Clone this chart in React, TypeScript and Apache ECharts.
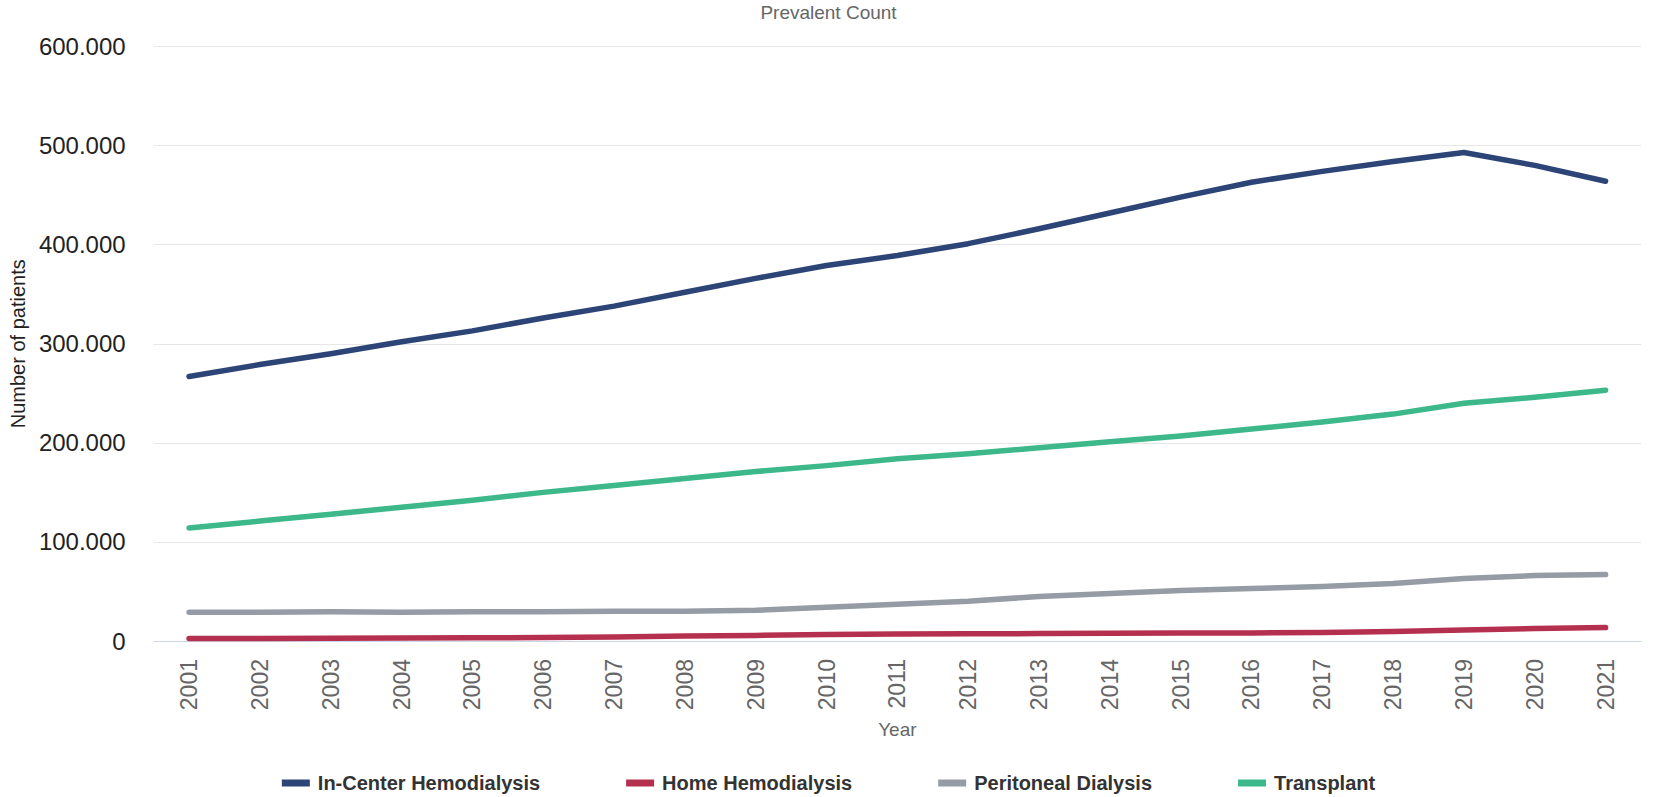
import React, { useEffect, useRef } from "react";
import * as echarts from "echarts";

const years = [
  "2001", "2002", "2003", "2004", "2005", "2006", "2007", "2008", "2009", "2010",
  "2011", "2012", "2013", "2014", "2015", "2016", "2017", "2018", "2019", "2020", "2021",
];

const inCenterHemodialysis = [
  267000, 279000, 290000, 302000, 313000, 326000, 338000, 352000, 366000, 379000,
  389000, 401000, 416000, 432000, 448000, 463000, 474000, 484000, 493000, 480000, 464000,
];

const homeHemodialysis = [
  2500, 2600, 2800, 3000, 3200, 3500, 4000, 5000, 5600, 6500,
  7000, 7200, 7500, 7800, 8000, 8200, 8500, 9500, 11000, 12500, 13500,
];

const peritonealDialysis = [
  29000, 29000, 29500, 29000, 29500, 29500, 30000, 30000, 31000, 34000,
  37000, 40000, 45000, 48000, 51000, 53000, 55000, 58000, 63000, 66000, 67000,
];

const transplant = [
  114000, 121000, 128000, 135000, 142000, 150000, 157000, 164000, 171000, 177000,
  184000, 189000, 195000, 201000, 207000, 214000, 221000, 229000, 240000, 246000, 253000,
];

const yTicks = [0, 100000, 200000, 300000, 400000, 500000, 600000];

const FONT = "'Liberation Sans', Arial, Helvetica, sans-serif";

const formatThousands = (v: number) =>
  String(Math.round(v)).replace(/\B(?=(\d{3})+(?!\d))/g, ".");

export default function App() {
  const ref = useRef<HTMLDivElement>(null);

  useEffect(() => {
    if (!ref.current) return;
    const chart = echarts.init(ref.current, undefined, { renderer: "svg" });

    const seriesDefs = [
      { name: "In-Center Hemodialysis", data: inCenterHemodialysis, color: "#2c4476" },
      { name: "Home Hemodialysis", data: homeHemodialysis, color: "#b5304e" },
      { name: "Peritoneal Dialysis", data: peritonealDialysis, color: "#959ca5" },
      { name: "Transplant", data: transplant, color: "#3db88b" },
    ];

    chart.setOption({
      animation: false,
      backgroundColor: "#ffffff",
      title: {
        text: "Prevalent Count",
        left: "center",
        top: 3,
        padding: 0,
        textStyle: { fontFamily: FONT, fontSize: 19, fontWeight: "normal", color: "#666666" },
      },
      legend: {
        top: 773,
        left: "center",
        padding: 0,
        itemWidth: 28,
        itemHeight: 7,
        itemGap: 86,
        icon: "rect",
        data: seriesDefs.map((s) => s.name),
        textStyle: {
          fontFamily: FONT,
          fontSize: 20,
          fontWeight: "bold",
          color: "#333333",
          padding: [0, 0, 0, 3],
        },
      },
      grid: {
        left: 149,
        right: 16,
        top: 46.5,
        bottom: 156,
        containLabel: false,
      },
      xAxis: {
        type: "category",
        data: years,
        boundaryGap: true,
        name: "Year",
        nameLocation: "middle",
        nameGap: 79,
        nameTextStyle: { fontFamily: FONT, fontSize: 19, color: "#666666" },
        axisLine: { show: true, lineStyle: { color: "#ccd6eb", width: 1 } },
        axisTick: { show: false },
        axisLabel: {
          rotate: 90,
          margin: 18,
          fontFamily: FONT,
          fontSize: 23,
          color: "#666666",
        },
      },
      yAxis: {
        type: "value",
        min: 0,
        max: 600000,
        interval: 100000,
        name: "Number of patients",
        nameLocation: "middle",
        nameGap: 123,
        nameTextStyle: { fontFamily: FONT, fontSize: 20, color: "#222222" },
        axisLine: { show: false },
        axisTick: { show: false },
        splitLine: { lineStyle: { color: "#e6e6e6", width: 1 } },
        axisLabel: {
          margin: 28,
          fontFamily: FONT,
          fontSize: 24,
          color: "#222222",
          formatter: (v: number) => (yTicks.includes(v) ? formatThousands(v) : ""),
        },
      },
      series: seriesDefs.map((s) => ({
        name: s.name,
        type: "line",
        data: s.data,
        symbol: "none",
        smooth: false,
        color: s.color,
        lineStyle: { width: 5.5, color: s.color, cap: "round", join: "round" },
        itemStyle: { color: s.color },
      })),
    });

    return () => chart.dispose();
  }, []);

  return (
    <div
      ref={ref}
      style={{ position: "absolute", left: 0, top: 0, width: 1657, height: 797 }}
    />
  );
}
